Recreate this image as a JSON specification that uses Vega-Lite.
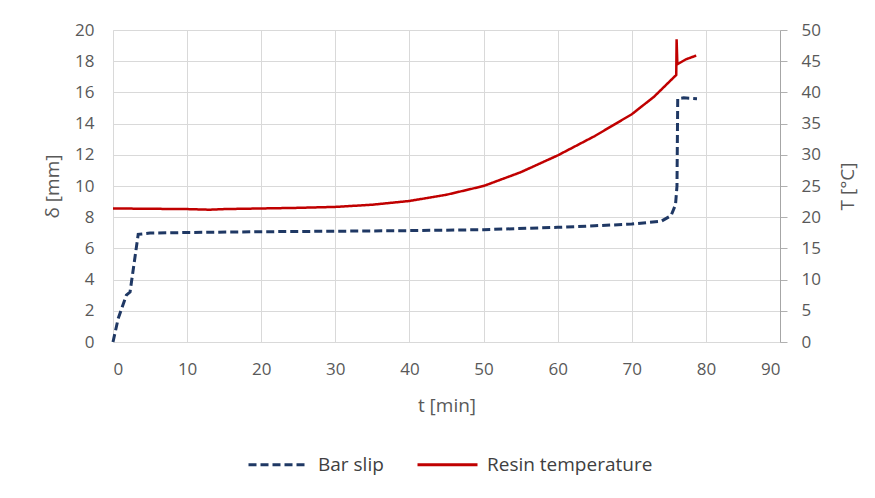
{
  "$schema": "https://vega.github.io/schema/vega-lite/v6.json",
  "autosize": {"type": "none"},
  "width": 667,
  "height": 312,
  "padding": {"left": 113, "top": 30, "right": 95, "bottom": 156},
  "background": "white",
  "config": {
    "font": "Open Sans",
    "view": {"stroke": null},
    "axis": {"labelFont": "Open Sans", "titleFont": "Open Sans", "labelColor": "#595959", "titleColor": "#595959", "labelFontSize": 17, "titleFontSize": 19, "titleFontWeight": "normal", "gridColor": "#d9d9d9", "gridWidth": 1}
  },
  "datasets": {
    "rows": [
      {"t": 0, "v": 0, "series": "Bar slip"},
      {"t": 0.7, "v": 1.5, "series": "Bar slip"},
      {"t": 1.8, "v": 3.0, "series": "Bar slip"},
      {"t": 2.3, "v": 3.2, "series": "Bar slip"},
      {"t": 3.4, "v": 6.9, "series": "Bar slip"},
      {"t": 5, "v": 6.98, "series": "Bar slip"},
      {"t": 10, "v": 7.02, "series": "Bar slip"},
      {"t": 20, "v": 7.07, "series": "Bar slip"},
      {"t": 30, "v": 7.1, "series": "Bar slip"},
      {"t": 40, "v": 7.14, "series": "Bar slip"},
      {"t": 50, "v": 7.2, "series": "Bar slip"},
      {"t": 60, "v": 7.35, "series": "Bar slip"},
      {"t": 65, "v": 7.45, "series": "Bar slip"},
      {"t": 70, "v": 7.56, "series": "Bar slip"},
      {"t": 74, "v": 7.75, "series": "Bar slip"},
      {"t": 75.3, "v": 8.1, "series": "Bar slip"},
      {"t": 75.9, "v": 8.8, "series": "Bar slip"},
      {"t": 76.1, "v": 10, "series": "Bar slip"},
      {"t": 76.2, "v": 15.6, "series": "Bar slip"},
      {"t": 77, "v": 15.65, "series": "Bar slip"},
      {"t": 78.8, "v": 15.6, "series": "Bar slip"},
      {"t": 0, "v": 21.4, "series": "Resin temperature"},
      {"t": 5, "v": 21.35, "series": "Resin temperature"},
      {"t": 10, "v": 21.3, "series": "Resin temperature"},
      {"t": 13, "v": 21.2, "series": "Resin temperature"},
      {"t": 15, "v": 21.3, "series": "Resin temperature"},
      {"t": 20, "v": 21.4, "series": "Resin temperature"},
      {"t": 25, "v": 21.5, "series": "Resin temperature"},
      {"t": 30, "v": 21.65, "series": "Resin temperature"},
      {"t": 35, "v": 22.0, "series": "Resin temperature"},
      {"t": 40, "v": 22.6, "series": "Resin temperature"},
      {"t": 45, "v": 23.6, "series": "Resin temperature"},
      {"t": 50, "v": 25.0, "series": "Resin temperature"},
      {"t": 55, "v": 27.2, "series": "Resin temperature"},
      {"t": 60, "v": 29.9, "series": "Resin temperature"},
      {"t": 65, "v": 33.0, "series": "Resin temperature"},
      {"t": 70, "v": 36.5, "series": "Resin temperature"},
      {"t": 73, "v": 39.3, "series": "Resin temperature"},
      {"t": 76.0, "v": 42.8, "series": "Resin temperature"},
      {"t": 76.05, "v": 48.5, "series": "Resin temperature"},
      {"t": 76.15, "v": 44.5, "series": "Resin temperature"},
      {"t": 77.3, "v": 45.3, "series": "Resin temperature"},
      {"t": 78.7, "v": 45.9, "series": "Resin temperature"}
    ]
  },
  "data": {"name": "rows"},
  "encoding": {
    "x": {"field": "t", "type": "quantitative", "scale": {"domain": [0, 90], "nice": false},
      "axis": {"values": [0,10,20,30,40,50,60,70,80,90], "title": "t [min]", "grid": true, "ticks": false, "domainColor": "#d9d9d9", "labelPadding": 19, "titlePadding": 19}},
    "color": {"field": "series", "type": "nominal", "scale": {"domain": ["Bar slip", "Resin temperature"], "range": ["#1f3864", "#c00000"]},
      "legend": {"title": null, "orient": "none", "legendX": 134, "legendY": 403, "direction": "horizontal", "symbolType": "stroke", "symbolSize": 3600, "symbolStrokeWidth": 3, "labelFont": "Open Sans", "labelFontSize": 19, "labelLimit": 400, "labelColor": "#404040", "columnPadding": 27, "labelOffset": 8}},
    "strokeDash": {"field": "series", "type": "nominal", "scale": {"domain": ["Bar slip", "Resin temperature"], "range": [[8, 4], [1, 0]]}, "legend": null}
  },
  "layer": [
    {
      "transform": [{"filter": "datum.series === 'Bar slip'"}],
      "mark": {"type": "line", "strokeWidth": 3},
      "encoding": {
        "y": {"field": "v", "type": "quantitative", "scale": {"domain": [0, 20], "nice": false},
          "axis": {"values": [0,2,4,6,8,10,12,14,16,18,20], "title": "δ [mm]", "grid": true, "ticks": false, "domainColor": "#d9d9d9", "labelPadding": 19, "titlePadding": 12, "orient": "left"}}
      }
    },
    {
      "transform": [{"filter": "datum.series === 'Resin temperature'"}],
      "mark": {"type": "line", "strokeWidth": 2.5},
      "encoding": {
        "y": {"field": "v", "type": "quantitative", "scale": {"domain": [0, 50], "nice": false},
          "axis": {"values": [0,5,10,15,20,25,30,35,40,45,50], "title": "T [°C]", "titleAngle": 270, "grid": false, "orient": "right", "ticks": true, "tickSize": 7, "tickColor": "#b0b0b0", "domainColor": "#a6a6a6", "labelPadding": 14, "titlePadding": 37}}
      }
    }
  ],
  "resolve": {"scale": {"y": "independent"}}
}
